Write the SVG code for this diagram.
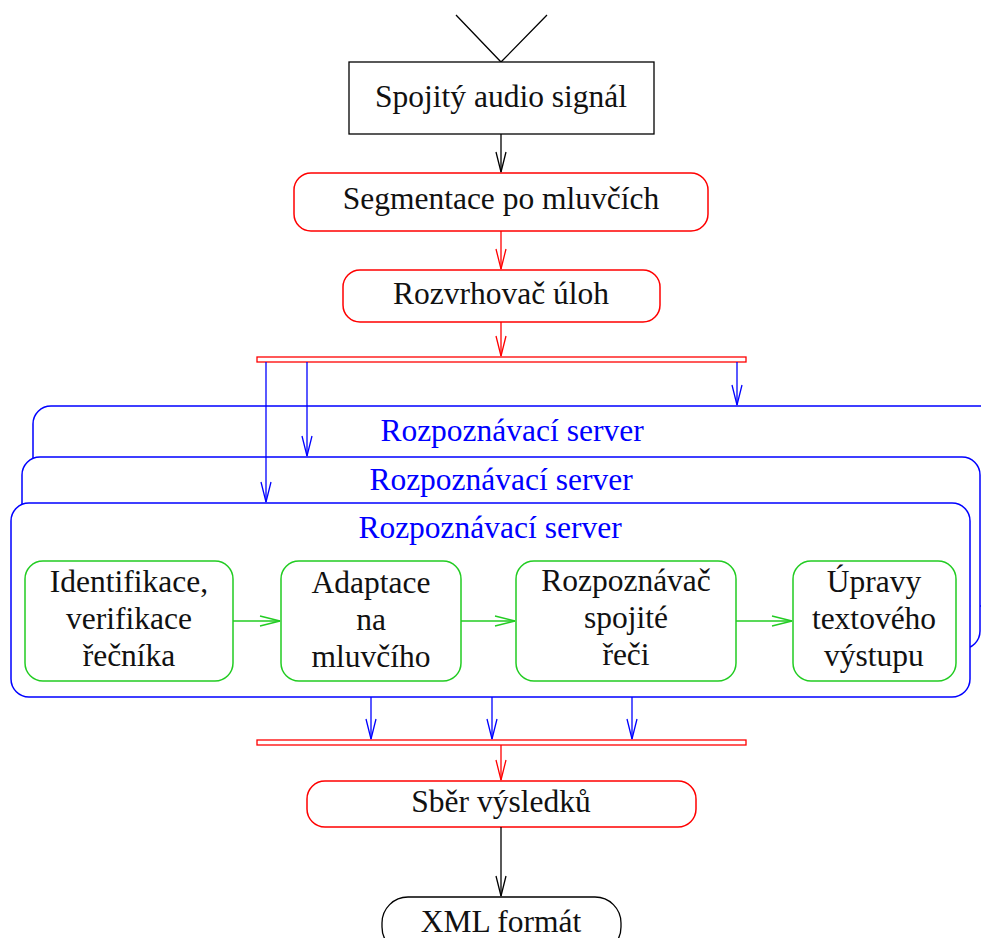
<svg xmlns="http://www.w3.org/2000/svg" width="981" height="938" viewBox="0 0 981 938">
<style>
text{font-family:"Liberation Serif","Times New Roman",serif;font-size:31.5px;text-anchor:middle;fill:#111}
.b{fill:#0000ff}
.red{fill:#fff;stroke:#ff0000;stroke-width:1.5}
.blu{fill:#fff;stroke:#0000ff;stroke-width:1.5}
.grn{fill:#fff;stroke:#22cc22;stroke-width:1.5}
.ck{stroke:#000;stroke-width:1.3;fill:none}
.cr{stroke:#ff0000;stroke-width:1.3;fill:none}
.cb{stroke:#0000ff;stroke-width:1.3;fill:none}
.cg{stroke:#22cc22;stroke-width:1.3;fill:none}
</style>
<defs>
<marker id="ak" markerUnits="userSpaceOnUse" markerWidth="24" markerHeight="14" refX="0" refY="0" viewBox="-22 -7 24 14" orient="auto"><path d="M-20,-5 L0,0 L-20,5" fill="none" stroke="#000" stroke-width="1.3"/></marker>
<marker id="ar" markerUnits="userSpaceOnUse" markerWidth="24" markerHeight="14" refX="0" refY="0" viewBox="-22 -7 24 14" orient="auto"><path d="M-20,-5 L0,0 L-20,5" fill="none" stroke="#ff0000" stroke-width="1.3"/></marker>
<marker id="ab" markerUnits="userSpaceOnUse" markerWidth="24" markerHeight="14" refX="0" refY="0" viewBox="-22 -7 24 14" orient="auto"><path d="M-20,-5 L0,0 L-20,5" fill="none" stroke="#0000ff" stroke-width="1.3"/></marker>
<marker id="ag" markerUnits="userSpaceOnUse" markerWidth="24" markerHeight="14" refX="0" refY="0" viewBox="-22 -7 24 14" orient="auto"><path d="M-20,-5 L0,0 L-20,5" fill="none" stroke="#22cc22" stroke-width="1.3"/></marker>
</defs>

<g id="start"><path class="ck" d="M456,15 L501,62 L547,15"/></g>

<g id="audio"><rect x="349" y="62" width="305" height="72" fill="#fff" stroke="#000" stroke-width="1.3"/><text x="501" y="107">Spojitý audio signál</text></g>

<g id="segmentace"><rect class="red" x="294" y="173" width="414" height="58" rx="17"/><text x="501" y="209">Segmentace po mluvčích</text></g>

<g id="rozvrhovac"><rect class="red" x="343" y="270" width="317" height="52" rx="17"/><text x="501" y="304">Rozvrhovač úloh</text></g>

<g id="fork"><rect x="257" y="357" width="489" height="5" fill="#fff" stroke="#ff0000" stroke-width="1.3"/></g>

<g id="server3"><rect class="blu" x="33" y="406" width="975" height="200" rx="18"/><text class="b" x="512" y="441">Rozpoznávací server</text></g>
<g id="server2"><rect class="blu" x="22" y="457" width="958" height="192" rx="18"/><text class="b" x="501" y="490">Rozpoznávací server</text></g>
<g id="server1"><rect class="blu" x="11" y="503" width="959" height="194" rx="18"/><text class="b" x="490" y="538">Rozpoznávací server</text></g>

<g id="identifikace"><rect class="grn" x="25" y="561" width="208" height="120" rx="18"/><text x="129" y="592">Identifikace,</text><text x="129" y="629">verifikace</text><text x="129" y="666">řečníka</text></g>
<g id="adaptace"><rect class="grn" x="281" y="561" width="180" height="120" rx="18"/><text x="371" y="593">Adaptace</text><text x="371" y="630">na</text><text x="371" y="667">mluvčího</text></g>
<g id="rozpoznavac"><rect class="grn" x="516" y="561" width="220" height="120" rx="18"/><text x="626" y="591">Rozpoznávač</text><text x="626" y="628">spojité</text><text x="626" y="665">řeči</text></g>
<g id="upravy"><rect class="grn" x="793" y="561" width="163" height="120" rx="18"/><text x="874" y="592">Úpravy</text><text x="874" y="629">textového</text><text x="874" y="666">výstupu</text></g>

<g id="join"><rect x="257" y="740" width="489" height="5" fill="#fff" stroke="#ff0000" stroke-width="1.3"/></g>

<g id="sber"><rect class="red" x="307" y="781" width="389" height="46" rx="18"/><text x="501" y="812">Sběr výsledků</text></g>

<g id="xml"><rect x="382" y="897" width="239" height="56" rx="26" fill="#fff" stroke="#000" stroke-width="1.3"/><text x="501" y="932">XML formát</text></g>

<g id="connectors">
<line class="ck" x1="501" y1="134" x2="501" y2="172" marker-end="url(#ak)"/>
<line class="cr" x1="501" y1="231" x2="501" y2="269" marker-end="url(#ar)"/>
<line class="cr" x1="501" y1="322" x2="501" y2="356" marker-end="url(#ar)"/>
<line class="cb" x1="266" y1="362" x2="266" y2="502" marker-end="url(#ab)"/>
<line class="cb" x1="307" y1="362" x2="307" y2="456" marker-end="url(#ab)"/>
<line class="cb" x1="737" y1="362" x2="737" y2="405" marker-end="url(#ab)"/>
<line class="cg" x1="233" y1="621" x2="280" y2="621" marker-end="url(#ag)"/>
<line class="cg" x1="461" y1="621" x2="515" y2="621" marker-end="url(#ag)"/>
<line class="cg" x1="736" y1="621" x2="792" y2="621" marker-end="url(#ag)"/>
<line class="cb" x1="371" y1="697" x2="371" y2="739" marker-end="url(#ab)"/>
<line class="cb" x1="492" y1="697" x2="492" y2="739" marker-end="url(#ab)"/>
<line class="cb" x1="632" y1="697" x2="632" y2="739" marker-end="url(#ab)"/>
<line class="cr" x1="501" y1="745" x2="501" y2="780" marker-end="url(#ar)"/>
<line class="ck" x1="501" y1="827" x2="501" y2="896" marker-end="url(#ak)"/>
</g>
</svg>
